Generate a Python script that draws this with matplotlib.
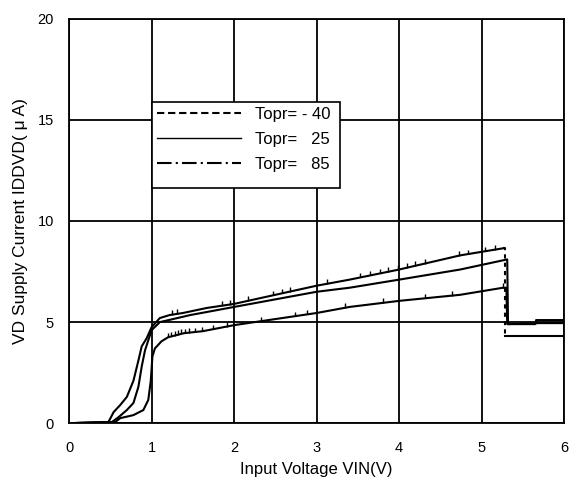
import matplotlib
matplotlib.use("Agg")
import numpy as np
import matplotlib.pyplot as plt
from matplotlib.lines import Line2D
from matplotlib.patches import Rectangle

plt.rcParams['font.family'] = ['Liberation Sans', 'DejaVu Sans']

# Topr = -40 (drops to ~4.3 at ~5.3 V)
vin_m40 = [0.0, 0.477, 0.54, 0.62, 0.70, 0.78, 0.84, 0.88, 0.94, 1.0, 1.1, 1.22, 1.38, 1.67, 2.0,
           3.0, 3.4, 4.0, 4.74, 5.26, 5.28, 5.28, 6.0]
idd_m40 = [0.0, 0.06, 0.55, 0.9, 1.3, 2.1, 3.1, 3.8, 4.2, 4.75, 5.2, 5.35, 5.45, 5.7, 5.9,
           6.8, 7.1, 7.6, 8.3, 8.65, 8.65, 4.3, 4.3]
drop_m40 = 19  # index where the dashed drop starts

# Topr = 25
vin_25 = [0.0, 0.52, 0.60, 0.70, 0.78, 0.84, 0.88, 0.92, 0.96, 1.0, 1.1, 1.26, 1.47, 1.67, 2.0,
          3.0, 3.4, 4.0, 4.74, 5.31, 5.32, 5.7, 6.0]
idd_25 = [0.0, 0.06, 0.3, 0.65, 1.0, 1.8, 2.8, 3.6, 4.1, 4.6, 5.0, 5.15, 5.35, 5.5, 5.75,
          6.5, 6.7, 7.1, 7.6, 8.1, 4.9, 4.95, 4.95]

# Topr = 85
vin_85 = [0.0, 0.56, 0.62, 0.78, 0.90, 0.96, 0.99, 1.01, 1.04, 1.12, 1.20, 1.39, 1.62, 2.0,
          3.0, 3.4, 4.0, 4.74, 5.26, 5.30, 5.31, 5.65, 5.66, 6.0]
idd_85 = [0.0, 0.06, 0.25, 0.4, 0.65, 1.15, 2.1, 3.3, 3.7, 4.05, 4.25, 4.45, 4.55, 4.85,
          5.45, 5.75, 6.05, 6.35, 6.7, 6.7, 4.9, 4.9, 5.1, 5.1]

# small spikes (measurement glitches) seen on the traces
spikes_m40 = [1.25, 1.31, 1.85, 1.95, 2.17, 2.47, 2.58, 2.68, 3.13, 3.53, 3.65, 3.77, 3.87,
              3.99, 4.1, 4.19, 4.31, 4.72, 4.84, 5.04, 5.16]
spikes_85 = [1.2, 1.24, 1.28, 1.32, 1.36, 1.4, 1.45, 1.52, 1.61, 1.75, 1.91, 2.32, 2.74, 2.88,
             3.35, 3.8, 4.31, 4.64, 5.26]

labels = ['Topr= - 40', 'Topr=   25', 'Topr=   85']

fig = plt.figure(figsize=(5.71, 4.82), dpi=100)
ax = fig.add_axes([0.121, 0.122, 0.867, 0.839])

lw = 1.5
# -40: solid curve, dashed vertical drop
ax.plot(vin_m40[:drop_m40 + 1], idd_m40[:drop_m40 + 1], c='k', lw=lw)
ax.plot(vin_m40[drop_m40:drop_m40 + 3], idd_m40[drop_m40:drop_m40 + 3], c='k', lw=lw, ls=(0, (2, 2)))
ax.plot(vin_m40[drop_m40 + 2:], idd_m40[drop_m40 + 2:], c='k', lw=lw)
ax.plot(vin_25, idd_25, c='k', lw=lw)
ax.plot(vin_85, idd_85, c='k', lw=lw)

for sx, vx, vy in [(spikes_m40, vin_m40[:drop_m40 + 1], idd_m40[:drop_m40 + 1]),
                   (spikes_85, vin_85[:19], idd_85[:19])]:
    base = np.interp(sx, vx, vy)
    ax.vlines(sx, base, base + 0.22, colors='k', lw=1.0)

ax.set_xlim(0, 6)
ax.set_ylim(0, 20)
ax.set_xticks(range(0, 7))
ax.set_yticks(range(0, 21, 5))
ax.grid(True, color='k', lw=1.3)
ax.set_axisbelow(True)
for s in ax.spines.values():
    s.set_linewidth(1.3)
ax.tick_params(length=0, labelsize=10.5)
ax.tick_params(axis='x', pad=13)
ax.tick_params(axis='y', pad=11)
ax.set_xlabel('Input Voltage VIN(V)', fontsize=12, labelpad=5)
ax.set_ylabel('VD Supply Current IDDVD( μ A)', fontsize=12.5, labelpad=7)

# legend frame
ax.add_patch(Rectangle((0.168, 0.582), 0.380, 0.213, transform=ax.transAxes,
                       facecolor='white', edgecolor='k', lw=1.2, zorder=4))
handles = [Line2D([], [], c='k', lw=1.5, ls=(0, (3.5, 1.8))),
           Line2D([], [], c='k', lw=1.0),
           Line2D([], [], c='k', lw=1.5, ls=(0, (7, 2, 1, 2)))]
leg = ax.legend(handles, labels, loc='upper left', bbox_to_anchor=(0.168, 0.795),
                fontsize=12, frameon=False,
                handlelength=5.0, handletextpad=0.85, labelspacing=0.6,
                borderpad=0.3, borderaxespad=0)
leg.set_zorder(5)

fig.savefig('out.png', dpi=100)
